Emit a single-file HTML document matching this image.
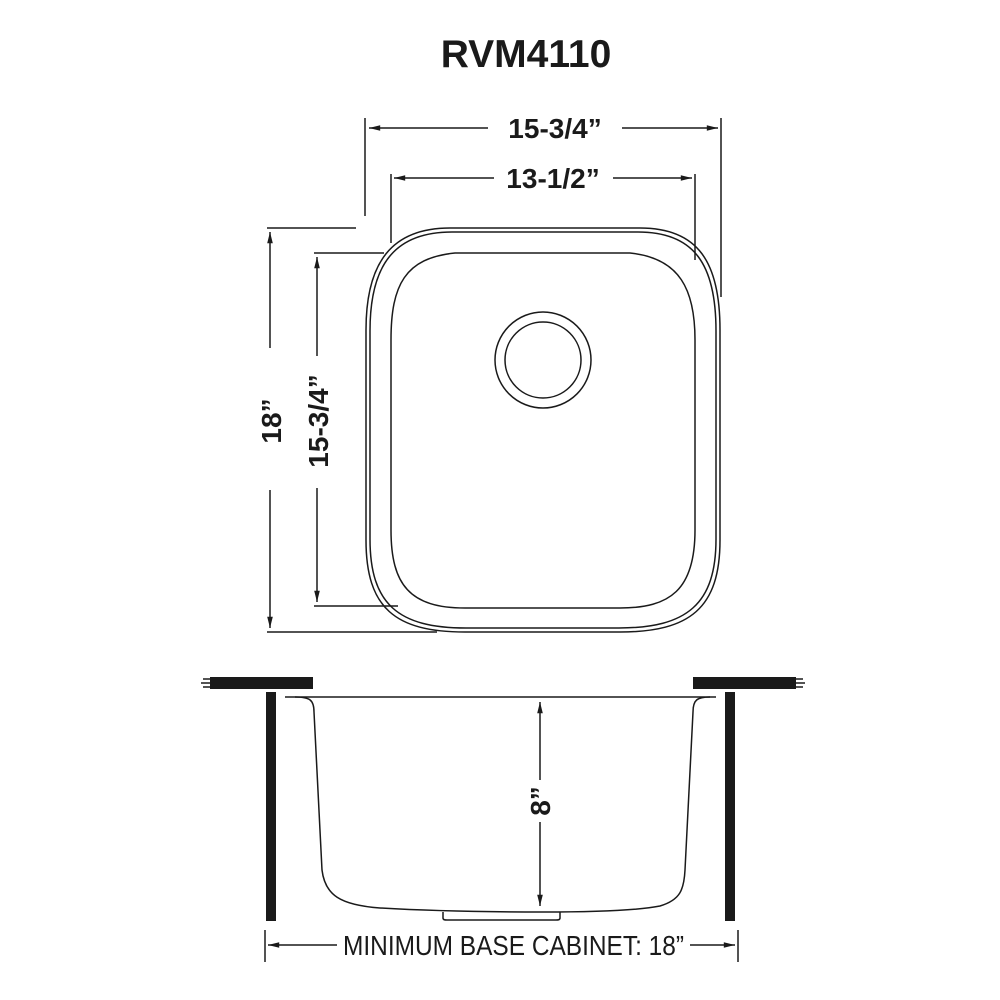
<!DOCTYPE html>
<html><head><style>
html,body{margin:0;padding:0;background:#fff;}
svg{display:block;}
text{font-family:"Liberation Sans",sans-serif;fill:#1a1a1a;}
</style></head><body>
<svg width="1000" height="1000" viewBox="0 0 1000 1000" xmlns="http://www.w3.org/2000/svg">
<defs>
<marker id="a" viewBox="0 0 14 10" refX="14" refY="5" markerWidth="14" markerHeight="8" orient="auto-start-reverse" markerUnits="userSpaceOnUse"><path d="M0,1.5 L14,5 L0,8.5 Z" fill="#1a1a1a"/></marker>
</defs>
<text x="526" y="67" font-size="39" font-weight="bold" text-anchor="middle">RVM4110</text>
<g stroke="#1a1a1a" stroke-width="1.5" fill="none">
<line x1="365" y1="118" x2="365" y2="216"/>
<line x1="721" y1="118" x2="721" y2="297"/>
<line x1="369" y1="128" x2="488" y2="128" marker-start="url(#a)"/>
<line x1="622" y1="128" x2="718" y2="128" marker-end="url(#a)"/>
<line x1="391" y1="174" x2="391" y2="243"/>
<line x1="695" y1="174" x2="695" y2="260"/>
<line x1="394" y1="178" x2="494" y2="178" marker-start="url(#a)"/>
<line x1="613" y1="178" x2="692" y2="178" marker-end="url(#a)"/>
<line x1="267" y1="228" x2="356" y2="228"/>
<line x1="267" y1="632" x2="437" y2="632"/>
<line x1="270" y1="232" x2="270" y2="348" marker-start="url(#a)"/>
<line x1="270" y1="490" x2="270" y2="628" marker-end="url(#a)"/>
<line x1="314" y1="253" x2="384" y2="253"/>
<line x1="314" y1="606" x2="398" y2="606"/>
<line x1="317" y1="257" x2="317" y2="356" marker-start="url(#a)"/>
<line x1="317" y1="488" x2="317" y2="602" marker-end="url(#a)"/>
<path d="M450,228 L640,228 C698,228 720,262 720,330 L720,540 C720,608 690,632 620,632 L465,632 C395,632 366,608 366,540 L366,330 C366,262 392,228 450,228 Z"/>
<path d="M452,232 L638,232 C694,232 716,264 716,331 L716,539 C716,604 687,628 619,628 L466,628 C398,628 370,604 370,539 L370,331 C370,264 395,232 452,232 Z"/>
<path d="M455,253 L630,253 C680,258 695,290 695,340 L695,530 C695,590 670,608 620,608 L465,608 C410,608 391,585 391,530 L391,340 C391,285 405,258 455,253 Z"/>
<circle cx="543" cy="360" r="48"/>
<circle cx="543" cy="360" r="38"/>
<line x1="285" y1="697" x2="716" y2="697"/>
<path d="M295,697 C310,697 314,700 314,712 L322,870 C325,895 340,905 380,908 C430,911 480,912 543,912 C600,912 640,910 660,906 C680,900 684,890 685,870 L693,712 C693,700 697,697 710,697"/>
<path d="M443,912 L443,918 C443,920 445,920 447,920 L556,920 C558,920 560,920 560,918 L560,912"/>
<line x1="540" y1="702" x2="540" y2="780" marker-start="url(#a)"/>
<line x1="540" y1="822" x2="540" y2="906" marker-end="url(#a)"/>
<line x1="265" y1="930" x2="265" y2="962"/>
<line x1="738" y1="930" x2="738" y2="962"/>
<line x1="268" y1="945" x2="337" y2="945" marker-start="url(#a)"/>
<line x1="690" y1="945" x2="735" y2="945" marker-end="url(#a)"/>
</g>
<rect x="210" y="677" width="103" height="12" fill="#1a1a1a"/>
<rect x="693" y="677" width="103" height="12" fill="#1a1a1a"/>
<g stroke="#1a1a1a" stroke-width="1.5">
<line x1="203" y1="679" x2="212" y2="679"/><line x1="201" y1="683" x2="212" y2="683"/><line x1="203" y1="687" x2="212" y2="687"/>
<line x1="794" y1="679" x2="803" y2="679"/><line x1="794" y1="683" x2="805" y2="683"/><line x1="794" y1="687" x2="803" y2="687"/>
</g>
<rect x="266" y="692" width="10" height="229" fill="#1a1a1a"/>
<rect x="725" y="692" width="10" height="229" fill="#1a1a1a"/>
<text x="555" y="138" font-size="28" font-weight="bold" text-anchor="middle">15-3/4”</text>
<text x="553" y="188" font-size="28" font-weight="bold" text-anchor="middle">13-1/2”</text>
<text transform="translate(281,421) rotate(-90)" font-size="28" font-weight="bold" text-anchor="middle">18”</text>
<text transform="translate(328,421) rotate(-90)" font-size="28" font-weight="bold" text-anchor="middle">15-3/4”</text>
<text transform="translate(550,801) rotate(-90)" font-size="28" font-weight="bold" text-anchor="middle">8”</text>
<text x="343" y="955" font-size="28" textLength="341" lengthAdjust="spacingAndGlyphs">MINIMUM BASE CABINET: 18”</text>
</svg>
</body></html>
